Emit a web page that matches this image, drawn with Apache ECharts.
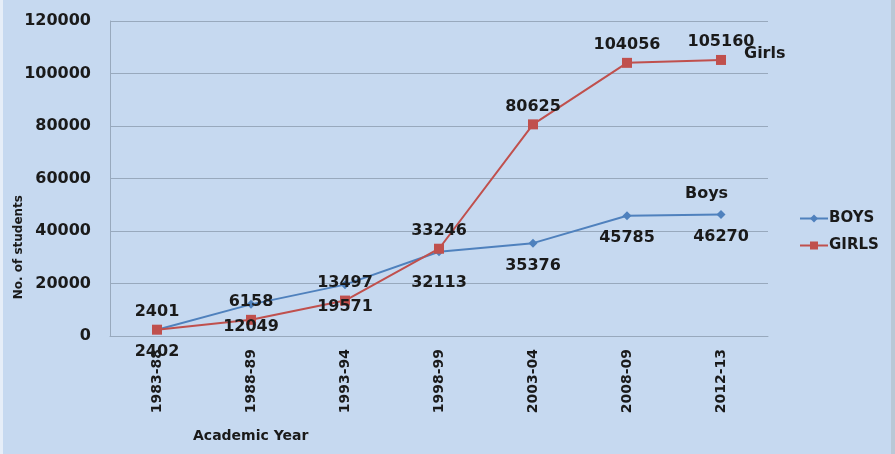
<!DOCTYPE html>
<html>
<head>
<meta charset="utf-8">
<script src="https://cdn.jsdelivr.net/npm/echarts@6/dist/echarts.min.js"></script>
<style>
html,body{margin:0;padding:0;background:#c6d9f0;}
#wrap{position:absolute;left:0;top:0;width:895px;height:454px;}
#c{width:895px;height:454px;}
#lstrip{position:absolute;left:0;top:0;width:3px;height:454px;background:#e6eef8;}
#rstrip{position:absolute;right:0;top:0;width:4px;height:454px;background:#b9c8d6;}
</style>
</head>
<body>
<div id="wrap"><div id="c"></div><div id="lstrip"></div><div id="rstrip"></div></div>
<script>
const categories = ['1983-88','1988-89','1993-94','1998-99','2003-04','2008-09','2012-13'];
const boys = [2402, 12049, 19571, 32113, 35376, 45785, 46270];
const girls = [2401, 6158, 13497, 33246, 80625, 104056, 105160];
const yTicks = [0, 20000, 40000, 60000, 80000, 100000, 120000];

const FONT = 'DejaVu Sans';
const chart = echarts.init(document.getElementById('c'), null, {renderer:'canvas'});
chart.setOption({
  backgroundColor: 'transparent',
  animation: false,
  textStyle: {fontFamily: FONT},
  grid: {left: 110, right: 127, top: 21, bottom: 118, containLabel: false},
  legend: {
    orient: 'vertical', left: 794, top: 206, itemGap: 12,
    itemWidth: 28, itemHeight: 10,
    textStyle: {fontFamily: FONT, fontWeight: 'bold', fontSize: 15, color: '#1a1a1a', padding: [0,0,0,-4]},
    data: ['BOYS', 'GIRLS']
  },
  xAxis: {
    type: 'category', data: categories, boundaryGap: true,
    axisLine: {lineStyle: {color: '#98a9bd', width: 1}},
    axisTick: {show: false},
    axisLabel: {rotate: 90, fontFamily: FONT, fontWeight: 'bold', fontSize: 14, color: '#1a1a1a', margin: 13}
  },
  yAxis: {
    type: 'value', min: yTicks[0], max: yTicks[yTicks.length-1], interval: 20000,
    axisLine: {show: true, lineStyle: {color: '#98a9bd', width: 1}},
    axisTick: {show: false},
    splitLine: {lineStyle: {color: '#98a9bd', width: 1}},
    axisLabel: {fontFamily: FONT, fontWeight: 'bold', fontSize: 16, color: '#1a1a1a', margin: 19, formatter: v => String(v)}
  },
  series: [
    {
      name: 'BOYS', type: 'line', data: boys.map((v, i) => i === 3 ? {value: v, label: {offset: [0, 9]}} : v),
      symbol: 'diamond', symbolSize: 9,
      lineStyle: {color: '#4f81bd', width: 2},
      itemStyle: {color: '#4f81bd'},
      label: {show: true, position: 'bottom', distance: 10, fontFamily: FONT, fontWeight: 'bold', fontSize: 16, color: '#1a1a1a'}
    },
    {
      name: 'GIRLS', type: 'line', data: girls,
      symbol: 'rect', symbolSize: 10,
      lineStyle: {color: '#c0504d', width: 2},
      itemStyle: {color: '#c0504d'},
      label: {show: true, position: 'top', distance: 5, fontFamily: FONT, fontWeight: 'bold', fontSize: 16, color: '#1a1a1a'}
    }
  ],
  graphic: [
    {type: 'text', left: 13, top: 195, rotation: Math.PI/2, style: {text: 'No. of students', fontFamily: FONT, fontWeight: 'bold', fontSize: 12, fill: '#1a1a1a'}},
    {type: 'text', left: 193, top: 429, style: {text: 'Academic Year', fontFamily: FONT, fontWeight: 'bold', fontSize: 14, fill: '#1a1a1a'}},
    {type: 'text', left: 685, top: 186, style: {text: 'Boys', fontFamily: FONT, fontWeight: 'bold', fontSize: 16, fill: '#1a1a1a'}},
    {type: 'text', left: 744, top: 46, style: {text: 'Girls', fontFamily: FONT, fontWeight: 'bold', fontSize: 16, fill: '#1a1a1a'}}
  ]
});
</script>
</body>
</html>
